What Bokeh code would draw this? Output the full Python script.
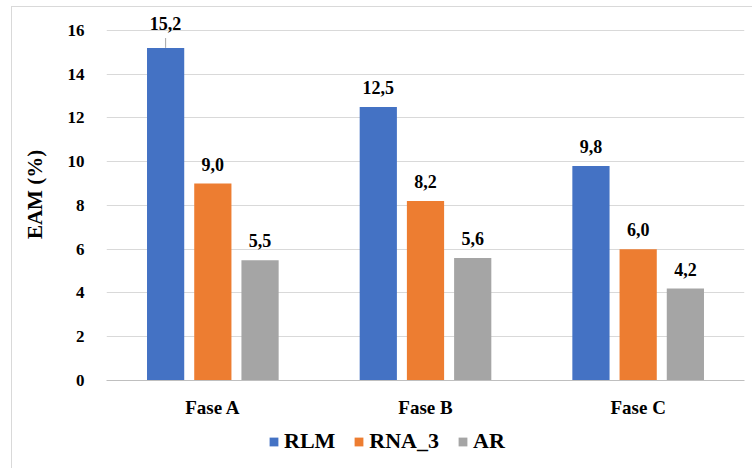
from bokeh.plotting import figure
from bokeh.layouts import column
from bokeh.models import ColumnDataSource, Legend, LegendItem, FactorRange, Range1d, FixedTicker
from bokeh.transform import dodge
from bokeh.core.properties import value
from bokeh.embed import file_html
from bokeh.resources import INLINE

categories = ["Fase A", "Fase B", "Fase C"]
series = ["RLM", "RNA_3", "AR"]
rlm = [15.2, 12.5, 9.8]
rna3 = [9.0, 8.2, 6.0]
ar = [5.5, 5.6, 4.2]
y_ticks = [0, 2, 4, 6, 8, 10, 12, 14, 16]

colors = ["#4472C4", "#ED7D31", "#A5A5A5"]
offsets = [-0.222, 0.0, 0.222]
bar_width = 0.175
FONT = "serif"

def fmt(v):
    return f"{v:.1f}".replace(".", ",")

p = figure(x_range=FactorRange(*categories, range_padding=0),
           y_range=Range1d(0, 17.0),
           width=740, height=413,
           min_border_left=94, min_border_right=8,
           min_border_top=1, min_border_bottom=39,
           output_backend="svg", toolbar_location=None)
p.outline_line_color = None
p.background_fill_color = "white"
p.border_fill_color = "white"

src = ColumnDataSource(dict(cat=categories, RLM=rlm, RNA_3=rna3, AR=ar,
                            lab_RLM=[fmt(v) for v in rlm],
                            lab_RNA_3=[fmt(v) for v in rna3],
                            lab_AR=[fmt(v) for v in ar]))

for s, c, off in zip(series, colors, offsets):
    p.vbar(x=dodge("cat", off, range=p.x_range), top=s, width=bar_width,
           source=src, fill_color=c, line_color=None)

# data labels
label_offsets = {"RLM": [-18, -13, -13], "RNA_3": [-13, -13, -13], "AR": [-13, -13, -13]}
for s, off in zip(series, offsets):
    lsrc = ColumnDataSource(dict(cat=categories, y=src.data[s], t=src.data["lab_" + s],
                                 yo=label_offsets[s]))
    p.text(x=dodge("cat", off, range=p.x_range), y="y", text="t", y_offset="yo",
           source=lsrc, text_align="center", text_baseline="bottom",
           text_font=value(FONT), text_font_style="bold", text_font_size="18px",
           text_color="#000000")

# leader line for the top label (RLM, Fase A)
p.segment(x0=dodge("cat", offsets[0], range=p.x_range), y0="y",
          x1=dodge("cat", offsets[0], range=p.x_range), y1="y1",
          source=ColumnDataSource(dict(cat=[categories[0]], y=[rlm[0]], y1=[rlm[0] + 0.45])),
          line_color="#a6a6a6", line_width=1)

# axes styling
p.yaxis.ticker = FixedTicker(ticks=y_ticks)
p.yaxis.axis_line_color = None
p.yaxis.major_tick_line_color = None
p.yaxis.minor_tick_line_color = None
p.yaxis.major_label_text_font = FONT
p.yaxis.major_label_text_font_style = "bold"
p.yaxis.major_label_text_font_size = "17px"
p.yaxis.major_label_text_color = "#000000"
p.yaxis.major_label_standoff = 16
p.yaxis.axis_label = "EAM (%)"
p.yaxis.axis_label_text_font = FONT
p.yaxis.axis_label_text_font_style = "bold"
p.yaxis.axis_label_text_font_size = "21px"
p.yaxis.axis_label_text_color = "#000000"
p.yaxis.axis_label_standoff = 18

p.xaxis.axis_line_color = "#bfbfbf"
p.xaxis.axis_line_width = 1
p.xaxis.major_tick_line_color = None
p.xaxis.minor_tick_line_color = None
p.xaxis.major_label_text_font = FONT
p.xaxis.major_label_text_font_style = "bold"
p.xaxis.major_label_text_font_size = "19px"
p.xaxis.major_label_text_color = "#000000"
p.xaxis.major_label_standoff = 10

p.xgrid.grid_line_color = None
p.ygrid.grid_line_color = "#d9d9d9"
p.ygrid.grid_line_width = 1
p.ygrid.ticker = FixedTicker(ticks=y_ticks)

# legend strip below the chart (its frame is aligned with the chart's frame)
p2 = figure(x_range=Range1d(0, 1), y_range=Range1d(0, 1),
            width=740, height=48, min_border=0,
            x_axis_location=None, y_axis_location=None,
            output_backend="svg", toolbar_location=None)
p2.outline_line_color = None
p2.xgrid.grid_line_color = None
p2.ygrid.grid_line_color = None
items = []
for s, c in zip(series, colors):
    # hidden proxy renderer (outside the visible range) just for the legend swatch
    r = p2.vbar(x=[-5], top=[-5], bottom=[-6], width=0.1, fill_color=c, line_color=None)
    items.append(LegendItem(label=s, renderers=[r]))
legend = Legend(items=items, orientation="horizontal", location=(162, 14),
                label_text_font=FONT, label_text_font_style="bold",
                label_text_font_size="22px", label_text_color="#000000",
                glyph_width=11, glyph_height=11, label_standoff=5, spacing=18,
                padding=2, margin=0, border_line_color=None,
                background_fill_alpha=0)
p2.add_layout(legend)

layout = column(p, p2, spacing=0)
layout.styles = {"margin-left": "11px", "margin-top": "6px",
                 "border-left": "1px solid #d9d9d9", "border-top": "1px solid #d9d9d9"}

open("out.html", "w").write(file_html(layout, INLINE))
